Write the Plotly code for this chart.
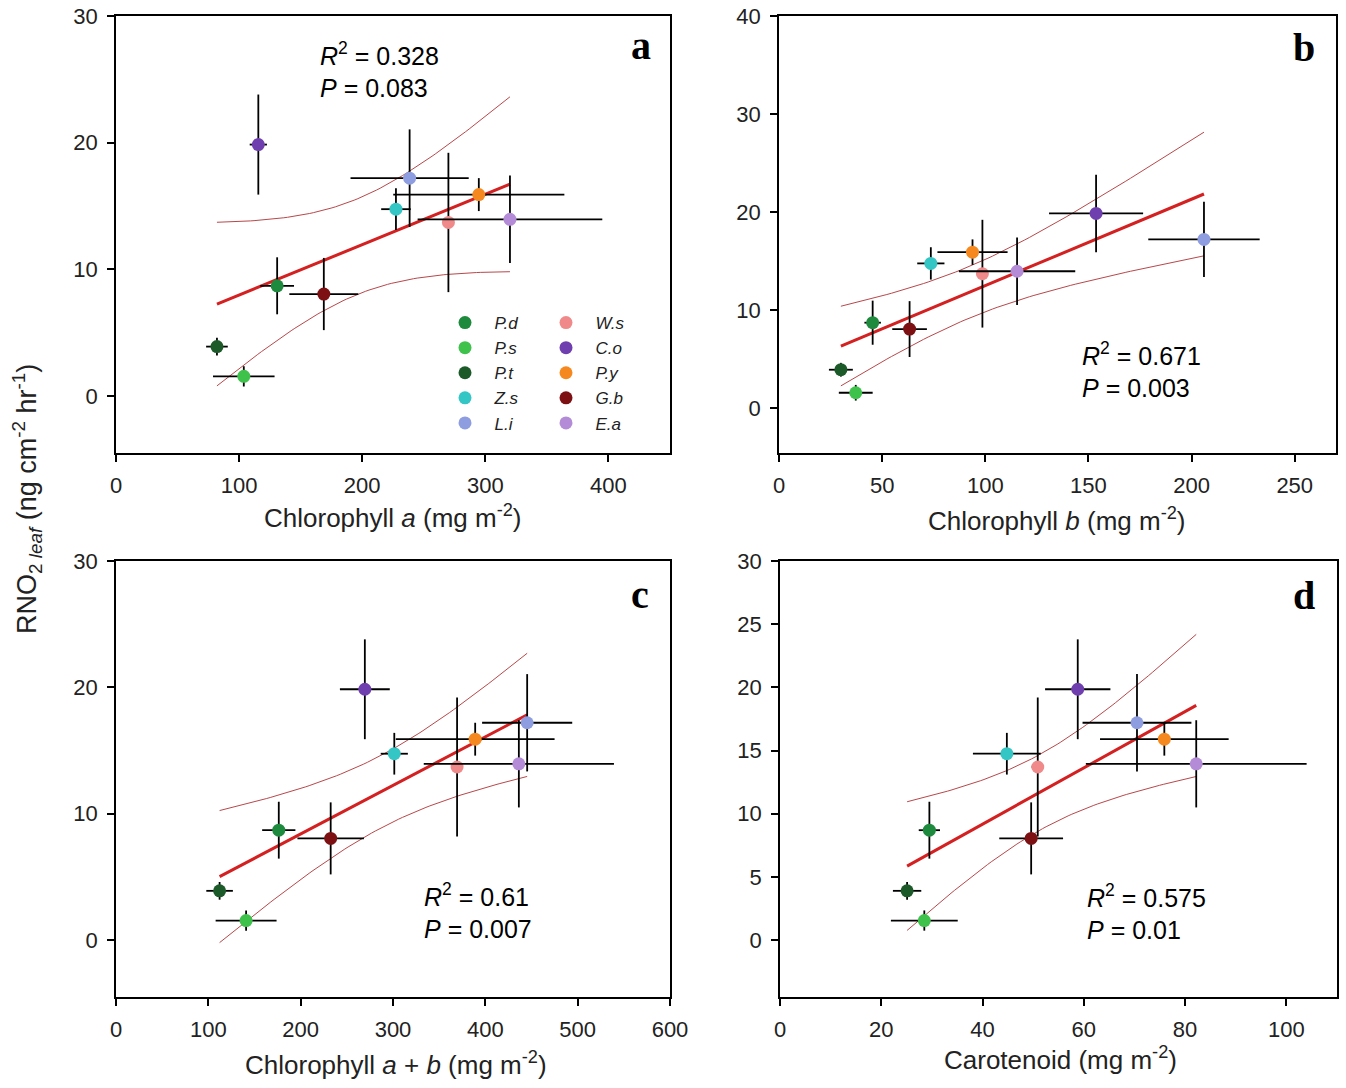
import numpy as np
import plotly.graph_objects as go

W, H = 1346, 1088

# ---------------- data ----------------
species = ["P.d", "P.s", "P.t", "Z.s", "L.i", "W.s", "C.o", "P.y", "G.b", "E.a"]
colors = ["#1e8a3e", "#3fc24c", "#1c5a2a", "#33c6c4", "#8e9ddf",
          "#f08a8a", "#6f3fb0", "#f5891f", "#7d1012", "#b48bd6"]

rno2 = [8.7, 1.55, 3.9, 14.75, 17.2, 13.7, 19.85, 15.9, 8.05, 13.95]
rno2_err = [2.25, 0.8, 0.7, 1.65, 3.85, 5.5, 3.95, 1.3, 2.85, 3.45]

chl_a = [130.9, 103.8, 82.0, 227.4, 238.5, 270.0, 115.6, 294.7, 168.8, 320.0]
chl_a_err = [13.7, 25.0, 8.8, 12.0, 48.0, 4.0, 7.0, 69.5, 28.0, 75.0]

chl_b = [45.4, 37.2, 30.0, 73.6, 206.0, 98.6, 153.7, 93.8, 63.3, 115.4]
chl_b_err = [4.0, 8.2, 5.8, 6.6, 27.0, 1.5, 22.8, 17.0, 8.4, 28.2]

chl_ab = [176.3, 140.9, 112.2, 301.4, 445.3, 369.4, 269.5, 389.0, 232.5, 436.3]
chl_ab_err = [18.0, 33.0, 14.4, 14.7, 48.8, 3.0, 27.0, 86.0, 36.0, 103.0]

carot = [29.5, 28.5, 25.1, 44.8, 70.5, 50.9, 58.8, 75.9, 49.6, 82.2]
carot_err = [2.1, 6.6, 2.8, 6.7, 10.75, 1.2, 6.45, 12.7, 6.3, 21.8]

r2_text = ["0.328", "0.671", "0.61", "0.575"]
p_text = ["0.083", "0.003", "0.007", "0.01"]
panel_letters = ["a", "b", "c", "d"]
x_titles = ["Chlorophyll <i>a</i> (mg m<sup>-2</sup>)",
            "Chlorophyll <i>b</i> (mg m<sup>-2</sup>)",
            "Chlorophyll <i>a</i> + <i>b</i> (mg m<sup>-2</sup>)",
            "Carotenoid (mg m<sup>-2</sup>)"]
y_title = "RNO<sub>2 <i>leaf</i></sub> (ng cm<sup>-2</sup> hr<sup>-1</sup>)"

T_CRIT = 2.306  # t(0.975, df=8)

panels = [
    (chl_a, chl_a_err),
    (chl_b, chl_b_err),
    (chl_ab, chl_ab_err),
    (carot, carot_err),
]

# ---------------- layout geometry (pixels) ----------------
def px(x):
    return x / W

def py(y):
    return 1 - y / H

x_dom = [(116, 670), (779, 1336), (116, 670), (780, 1337)]
y_dom = [(16, 453), (16, 453), (561, 997), (561, 997)]
x_ranges = [[0, 450], [0, 270], [0, 600], [0, 110]]
y_ranges = [[-4.5, 30], [-4.6, 40], [-4.5, 30], [-4.5, 30]]
x_dticks = [100, 50, 100, 20]
y_dticks = [10, 10, 10, 5]
letter_pos = [(641, 46), (1304, 48), (640, 594), (1304, 595)]
stat_pos = [(318, 70), (1080, 370), (422, 911), (1085, 912)]
xtitle_pos = [(393, 517), (1057, 519), (396, 1063), (1060, 1058)]

fig = go.Figure()
left_col = set(species[:5])

for i, (xv, xe) in enumerate(panels):
    ax = "" if i == 0 else str(i + 1)
    xref, yref = "x" + ax, "y" + ax
    x = np.array(xv, float)
    y = np.array(rno2, float)
    # regression and 95% confidence band
    slope, icpt = np.polyfit(x, y, 1)
    n = len(x)
    resid = y - (icpt + slope * x)
    s = np.sqrt(np.sum(resid ** 2) / (n - 2))
    sxx = np.sum((x - x.mean()) ** 2)
    xs = np.linspace(x.min(), x.max(), 80)
    yhat = icpt + slope * xs
    half = T_CRIT * s * np.sqrt(1 / n + (xs - x.mean()) ** 2 / sxx)
    for band in (yhat + half, yhat - half):
        fig.add_trace(go.Scatter(x=xs, y=band, mode="lines", xaxis=xref, yaxis=yref,
                                 line=dict(color="#b8474a", width=1), showlegend=False,
                                 hoverinfo="skip"))
    fig.add_trace(go.Scatter(x=xs, y=yhat, mode="lines", xaxis=xref, yaxis=yref,
                             line=dict(color="#d42020", width=3), showlegend=False,
                             hoverinfo="skip"))
    for k, sp in enumerate(species):
        fig.add_trace(go.Scatter(
            x=[xv[k]], y=[rno2[k]], mode="markers", xaxis=xref, yaxis=yref,
            name="\u00a0\u00a0<i>" + sp + "</i>",
            marker=dict(color=colors[k], size=13),
            error_x=dict(type="data", array=[xe[k]], color="black", thickness=1.8, width=0),
            error_y=dict(type="data", array=[rno2_err[k]], color="black", thickness=1.8, width=0),
            showlegend=(i == 0),
            legend="legend" if sp in left_col else "legend2",
        ))

axis_common = dict(showline=True, linecolor="black", linewidth=1.6, mirror=True,
                   ticks="outside", ticklen=7, tickwidth=1.6, tickcolor="black",
                   showgrid=False, zeroline=False,
                   tickfont=dict(family="Liberation Sans, Arial", size=22, color="#222"))

layout = dict(width=W, height=H, margin=dict(l=0, r=0, t=0, b=0, pad=0, autoexpand=False),
              plot_bgcolor="white", paper_bgcolor="white", annotations=[])

for i in range(4):
    ax = "" if i == 0 else str(i + 1)
    layout["xaxis" + ax] = dict(axis_common, domain=[px(x_dom[i][0]), px(x_dom[i][1])],
                                range=x_ranges[i], dtick=x_dticks[i], tick0=0,
                                anchor="y" + ax, ticklabelstandoff=5, automargin=False)
    layout["yaxis" + ax] = dict(axis_common, domain=[py(y_dom[i][1]), py(y_dom[i][0])],
                                range=y_ranges[i], dtick=y_dticks[i], tick0=0,
                                anchor="x" + ax, ticklabelstandoff=5, automargin=False)
    lx, ly = letter_pos[i]
    layout["annotations"].append(dict(
        text="<b>" + panel_letters[i] + "</b>", x=px(lx), y=py(ly), xref="paper", yref="paper",
        xanchor="center", yanchor="middle", showarrow=False,
        font=dict(family="Liberation Serif, Times New Roman", size=40, color="black")))
    sx, sy = stat_pos[i]
    layout["annotations"].append(dict(
        text="<i>R</i><sup>2</sup> = " + r2_text[i] + "<br><i>P</i> = " + p_text[i],
        x=px(sx), y=py(sy), xref="paper", yref="paper", xanchor="left", yanchor="middle",
        align="left", showarrow=False,
        font=dict(family="Liberation Sans, Arial", size=25, color="black")))
    tx, ty = xtitle_pos[i]
    layout["annotations"].append(dict(
        text=x_titles[i], x=px(tx), y=py(ty), xref="paper", yref="paper",
        xanchor="center", yanchor="middle", showarrow=False,
        font=dict(family="Liberation Sans, Arial", size=26, color="#222")))

layout["annotations"].append(dict(
    text=y_title, x=px(27), y=py(499), xref="paper", yref="paper", textangle=-90,
    xanchor="center", yanchor="middle", showarrow=False,
    font=dict(family="Liberation Sans, Arial", size=27, color="#222")))

legend_common = dict(bgcolor="rgba(0,0,0,0)", borderwidth=0, orientation="v",
                     xanchor="left", yanchor="top",
                     font=dict(family="Liberation Sans, Arial", size=17, color="#222"))
layout["legend"] = dict(legend_common, x=px(445), y=py(305))
layout["legend2"] = dict(legend_common, x=px(546), y=py(305))

fig.update_layout(**layout)
fig.write_html("out.html", config={"displayModeBar": False},
               post_script="document.body.style.margin='0';")
